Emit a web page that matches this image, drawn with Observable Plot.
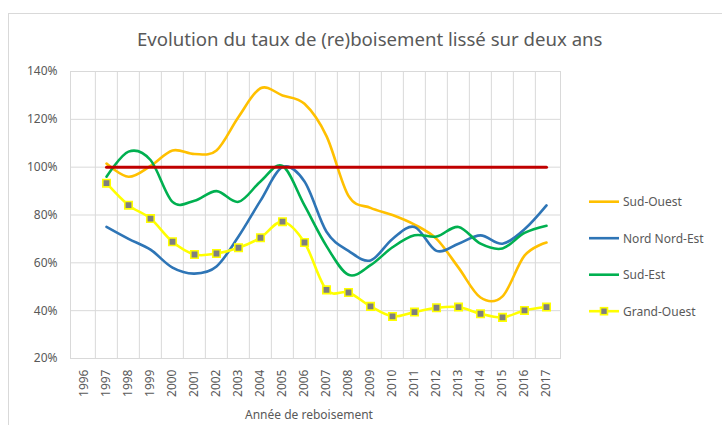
<!DOCTYPE html>
<html>
<head>
<meta charset="utf-8">
<script src="https://cdn.jsdelivr.net/npm/d3@7"></script>
<script src="https://cdn.jsdelivr.net/npm/@observablehq/plot@0.6"></script>
<style>
  html, body { margin: 0; padding: 0; background: #fff; }
  #wrap { position: relative; width: 722px; height: 425px; overflow: hidden; background: #fff; font-family: "Noto Sans", sans-serif; }
  #border { position: absolute; left: 8px; top: 13px; width: 800px; height: 500px; border: 1px solid #D9D9D9; box-sizing: border-box; }
  #chart, #overlay { position: absolute; left: 0; top: 0; }
</style>
</head>
<body>
<div id="wrap">
  <div id="border"></div>
  <div id="chart"></div>
  <svg id="overlay" width="722" height="425"></svg>
</div>
<script>
// ---- Data ----
const axisYears = [1996,1997,1998,1999,2000,2001,2002,2003,2004,2005,2006,2007,2008,2009,2010,2011,2012,2013,2014,2015,2016,2017];
const dataYears = [1997,1998,1999,2000,2001,2002,2003,2004,2005,2006,2007,2008,2009,2010,2011,2012,2013,2014,2015,2016,2017];
const sudOuest    = [101.5, 96, 100.5, 107, 105.5, 107, 121, 133, 130, 126.5, 113, 88, 83, 80, 76, 70, 58, 45.5, 46, 63, 68.5];
const nordNordEst = [75, 70, 65.5, 58, 55.5, 58.5, 71, 86, 100, 94, 73, 65, 61, 70, 75, 65, 68, 71.5, 68, 74, 84];
const sudEst      = [96, 106.5, 103, 85.5, 86, 90, 85.5, 94, 100.5, 84, 67, 55, 59, 66.5, 71.5, 71, 75, 68, 66, 72.5, 75.5];
const grandOuest  = [93.3, 84.1, 78.5, 68.8, 63.5, 63.9, 66.3, 70.5, 77.2, 68.5, 48.7, 47.6, 41.8, 37.6, 39.4, 41.2, 41.5, 38.7, 37.2, 40.1, 41.5];
const objectif    = [100,100,100,100,100,100,100,100,100,100,100,100,100,100,100,100,100,100,100,100,100];
const seriesNames = ["Sud-Ouest", "Nord Nord-Est", "Sud-Est", "Grand-Ouest"];
const seriesColors = ["#FFC000", "#2E75B6", "#00B050", "#FFFF00"];
const yTicks = [20, 40, 60, 80, 100, 120, 140];
const titleText = "Evolution du taux de (re)boisement lissé sur deux ans";
const xTitle = "Année de reboisement";

const seriesValues = [sudOuest, nordNordEst, sudEst, grandOuest];
const rows = (vals, name) => dataYears.map((yr, i) => ({year: yr, value: vals[i], series: name}));

// ---- Layout ----
const W = 722, H = 425;
const mL = 70, mR = 162, mT = 71, mB = 67;
const step = (W - mL - mR) / axisYears.length;
const grid = "#D9D9D9", txt = "#595959";

const lineMarks = seriesValues.map((vals, k) =>
  Plot.line(rows(vals, seriesNames[k]), {x: "year", y: "value", stroke: seriesColors[k], strokeWidth: 2.6, curve: "cardinal"})
);

const plot = Plot.plot({
  width: W, height: H,
  marginLeft: mL, marginRight: mR, marginTop: mT, marginBottom: mB,
  style: {fontFamily: "'Noto Sans', sans-serif", fontSize: "12px", color: txt, background: "transparent", overflow: "visible"},
  x: {type: "point", domain: axisYears, padding: 0.5, label: null},
  y: {domain: [20, 140], label: null},
  marks: [
    Plot.ruleY(yTicks, {stroke: grid, strokeWidth: 1}),
    Plot.ruleX(axisYears.slice(1), {dx: -step / 2, stroke: grid, strokeWidth: 1}),
    Plot.frame({stroke: grid, strokeWidth: 1}),
    Plot.axisY({ticks: yTicks, tickSize: 0, tickPadding: 13, tickFormat: d => d + "%", fill: txt, label: null}),
    Plot.axisX({tickSize: 0, tickPadding: 11, tickRotate: -90, tickFormat: d => String(d), fill: txt, label: null}),
    ...lineMarks,
    Plot.dot(rows(grandOuest, "Grand-Ouest"), {x: "year", y: "value", symbol: "square", r: 4.2, fill: "#7F7F7F", stroke: "#FFFF00", strokeWidth: 1.6}),
    Plot.line(rows(objectif, "Objectif"), {x: "year", y: "value", stroke: "#C00000", strokeWidth: 3})
  ]
});
document.getElementById("chart").appendChild(plot);

// ---- Overlay: title, axis title, legend ----
const ov = d3.select("#overlay");
ov.append("text").attr("x", 137).attr("y", 46)
  .attr("font-family", "'Noto Sans', sans-serif").attr("font-size", 18.6).attr("fill", txt)
  .text(titleText);
ov.append("text").attr("x", 245).attr("y", 419)
  .attr("font-family", "'Noto Sans', sans-serif").attr("font-size", 12).attr("fill", txt)
  .text(xTitle);

const legY0 = 201.7, legDy = 36.5;
seriesNames.forEach((name, k) => {
  const y = legY0 + k * legDy;
  const g = ov.append("g");
  g.append("line").attr("x1", 589).attr("x2", 619).attr("y1", y).attr("y2", y)
    .attr("stroke", seriesColors[k]).attr("stroke-width", 2.6);
  if (name === "Grand-Ouest") {
    g.append("rect").attr("x", 604 - 3.5).attr("y", y - 3.5).attr("width", 7).attr("height", 7)
      .attr("fill", "#7F7F7F").attr("stroke", "#FFFF00").attr("stroke-width", 1.6);
  }
  g.append("text").attr("x", 623).attr("y", y + 4.3)
    .attr("font-family", "'Noto Sans', sans-serif").attr("font-size", 12).attr("fill", txt)
    .text(name);
});
</script>
</body>
</html>
